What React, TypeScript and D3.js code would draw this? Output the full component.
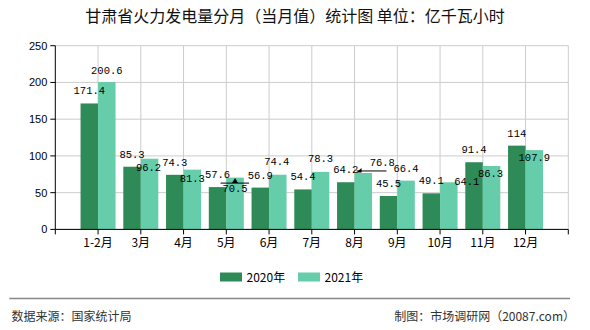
import React from "react";
import * as d3 from "d3";

const categories = ["1-2月", "3月", "4月", "5月", "6月", "7月", "8月", "9月", "10月", "11月", "12月"];
const values2020 = [171.4, 85.3, 74.3, 57.6, 56.9, 54.4, 64.2, 45.5, 49.1, 91.4, 114];
const values2021 = [200.6, 96.2, 81.3, 70.5, 74.4, 78.3, 76.8, 66.4, 64.1, 86.3, 107.9];
const seriesNames = ["2020年", "2021年"];
const yTicks = [0, 50, 100, 150, 200, 250];

const W = 590;
const H = 330;
const COLORS = ["#2e8b57", "#66cdaa"];

// label nudges (layout only): dy of baseline relative to bar top, dx from bar center
const nudge2020 = categories.map(() => ({ dx: 0, dy: -9 }));
const nudge2021 = [
  { dx: 0, dy: -8 },
  { dx: -1, dy: 12.5 },
  { dx: 0, dy: 12 },
  { dx: 0, dy: 14 },
  { dx: -1, dy: -9.5 },
  { dx: 0, dy: -10 },
  { dx: 19, dy: -7 },
  { dx: 0, dy: -9 },
  { dx: 18, dy: 3 },
  { dx: -1, dy: 11 },
  { dx: 0, dy: 10.5 },
];

export default function App() {
  const left = 55.3;
  const right = 568.3;
  const top = 45.7;
  const bottom = 229.4;
  const x = d3.scaleLinear().domain([0, categories.length + 1]).range([left, right]);
  const y = d3.scaleLinear().domain([0, 250]).range([bottom, top]);
  const bw = 17.5;
  const labelFont = "'Liberation Mono', 'DejaVu Sans Mono', monospace";
  const sans = "'Noto Sans CJK SC', 'Liberation Sans', sans-serif";
  const gridXs = d3.range(1, categories.length + 2).map((i) => x(i));

  return (
    <svg
      width={W}
      height={H}
      viewBox={`0 0 ${W} ${H}`}
      style={{ position: "absolute", left: 0, top: 0, background: "#fff" }}
    >
      <rect x={0} y={0} width={W} height={H} fill="#fff" />
      <text
        x={295}
        y={22}
        textAnchor="middle"
        fontSize={16}
        fontFamily={sans}
        fill="#111"
      >
        甘肃省火力发电量分月（当月值）统计图 单位：亿千瓦小时
      </text>

      {/* grid */}
      {yTicks.map((t) => (
        <line key={"gy" + t} x1={left} x2={right} y1={y(t)} y2={y(t)} stroke="#cccccc" strokeWidth={1} />
      ))}
      {gridXs.map((gx, i) => (
        <line key={"gx" + i} x1={gx} x2={gx} y1={top} y2={bottom} stroke="#cccccc" strokeWidth={1} />
      ))}

      {/* bars */}
      {categories.map((c, i) => {
        const cx = x(i + 1);
        return (
          <g key={"b" + c}>
            <rect x={cx - bw} y={y(values2020[i])} width={bw} height={bottom - y(values2020[i])} fill={COLORS[0]} />
            <rect x={cx} y={y(values2021[i])} width={bw} height={bottom - y(values2021[i])} fill={COLORS[1]} />
          </g>
        );
      })}

      {/* axes */}
      <line x1={left} x2={left} y1={top} y2={bottom} stroke="#000" strokeWidth={1} />
      <line x1={left} x2={right} y1={bottom} y2={bottom} stroke="#000" strokeWidth={1} />
      {yTicks.map((t) => (
        <g key={"yt" + t}>
          <line x1={left - 5} x2={left} y1={y(t)} y2={y(t)} stroke="#000" />
          <text
            x={left - 8}
            y={y(t) + 4}
            textAnchor="end"
            fontSize={11}
            fontFamily="'Liberation Sans', sans-serif"
            fill="#000"
          >
            {t}
          </text>
        </g>
      ))}
      {d3.range(0, categories.length + 2).map((i) => (
        <line key={"xt" + i} x1={x(i)} x2={x(i)} y1={bottom} y2={bottom + 5} stroke="#000" />
      ))}
      {categories.map((c, i) => (
        <text
          key={"xl" + c}
          x={x(i + 1)}
          y={246.5}
          textAnchor="middle"
          fontSize={12}
          fontFamily={sans}
          fill="#000"
        >
          {c}
        </text>
      ))}

      {/* leader markers */}
      {(() => {
        const i5 = 3;
        const cx5 = x(i5 + 1) + bw / 2;
        const ty5 = y(values2021[i5]) + 5.5;
        const i8 = 6;
        const cx8 = x(i8 + 1) + 2;
        const ty8 = y(values2021[i8]) - 2;
        return (
          <g>
            <line x1={cx5 - 14.5} x2={cx5 + 14} y1={ty5} y2={ty5} stroke="#000" strokeWidth={1} />
            <path d={`M${cx5 - 3},${ty5} L${cx5},${ty5 - 5} L${cx5 + 3},${ty5} Z`} fill="#000" />
            <line x1={cx8} x2={cx8 + 30} y1={ty8} y2={ty8} stroke="#000" strokeWidth={1} />
            <path d={`M${cx8},${ty8 + 1.5} L${cx8 + 5},${ty8 - 3} L${cx8 + 5},${ty8 + 1.5} Z`} fill="#000" />
          </g>
        );
      })()}

      {/* data labels */}
      {categories.map((c, i) => {
        const cx = x(i + 1);
        const n1 = nudge2020[i];
        const n2 = nudge2021[i];
        return (
          <g key={"dl" + c} fontSize={10.5} fontFamily={labelFont} fill="#000">
            <text x={cx - bw / 2 + n1.dx} y={y(values2020[i]) + n1.dy} textAnchor="middle">
              {values2020[i]}
            </text>
            <text x={cx + bw / 2 + n2.dx} y={y(values2021[i]) + n2.dy} textAnchor="middle">
              {values2021[i]}
            </text>
          </g>
        );
      })}

      {/* legend */}
      {seriesNames.map((s, k) => {
        const lx = 220 + k * 78;
        return (
          <g key={"lg" + s}>
            <rect x={lx} y={272.5} width={22} height={9} fill={COLORS[k]} />
            <text x={lx + 26.5} y={281.5} fontSize={12} fontFamily={sans} fill="#000">
              {s}
            </text>
          </g>
        );
      })}

      {/* footer */}
      <line x1={9.3} x2={570} y1={298.5} y2={298.5} stroke="#888" strokeWidth={1.5} />
      <text x={11.5} y={321} fontSize={12} fontFamily={sans} fill="#333">
        数据来源：国家统计局
      </text>
      <text x={575} y={321} textAnchor="end" fontSize={12} fontFamily={sans} fill="#333">
        制图：市场调研网（20087.com）
      </text>
    </svg>
  );
}
